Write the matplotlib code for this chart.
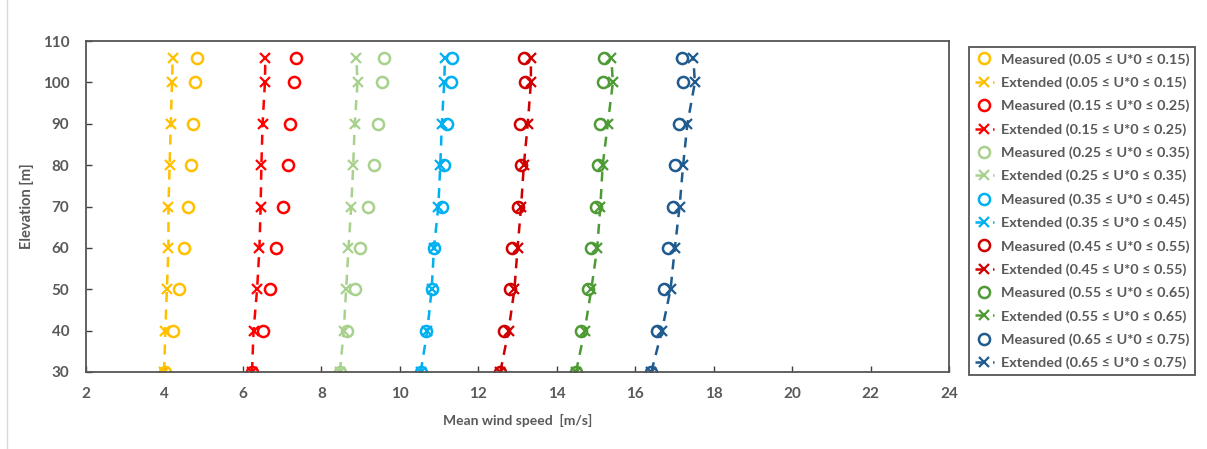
import matplotlib
matplotlib.use("Agg")
import matplotlib.pyplot as plt
from matplotlib.lines import Line2D

plt.rcParams['font.family'] = ['Lato', 'DejaVu Sans']

# elevation levels [m]
heights = [30, 40, 50, 60, 70, 80, 90, 100, 106]

ranges = ["0.05 ≤ U*0 ≤ 0.15", "0.15 ≤ U*0 ≤ 0.25", "0.25 ≤ U*0 ≤ 0.35",
          "0.35 ≤ U*0 ≤ 0.45", "0.45 ≤ U*0 ≤ 0.55", "0.55 ≤ U*0 ≤ 0.65",
          "0.65 ≤ U*0 ≤ 0.75"]
colors = ["#FFC000", "#FF0000", "#A9D18E", "#00B0F0", "#D00000", "#4E9A35", "#1F5B8E"]

# measured mean wind speed [m/s], one list per U*0 class
measured = [
    [4.00, 4.22, 4.36, 4.50, 4.59, 4.67, 4.73, 4.78, 4.83],
    [6.23, 6.50, 6.68, 6.83, 7.02, 7.14, 7.19, 7.30, 7.34],
    [8.47, 8.66, 8.85, 8.98, 9.20, 9.33, 9.43, 9.54, 9.59],
    [10.53, 10.66, 10.81, 10.87, 11.07, 11.13, 11.20, 11.30, 11.32],
    [12.56, 12.65, 12.81, 12.86, 13.00, 13.09, 13.07, 13.19, 13.17],
    [14.49, 14.62, 14.79, 14.86, 15.00, 15.05, 15.09, 15.17, 15.20],
    [16.41, 16.56, 16.73, 16.84, 16.96, 17.01, 17.12, 17.22, 17.18],
]
# extended profile [m/s]
extended = [
    [3.99, 4.02, 4.06, 4.10, 4.10, 4.13, 4.16, 4.19, 4.21],
    [6.23, 6.27, 6.36, 6.42, 6.45, 6.47, 6.50, 6.56, 6.57],
    [8.47, 8.57, 8.63, 8.69, 8.76, 8.81, 8.85, 8.92, 8.89],
    [10.53, 10.70, 10.81, 10.87, 10.98, 11.03, 11.07, 11.13, 11.15],
    [12.56, 12.77, 12.92, 13.00, 13.09, 13.16, 13.26, 13.34, 13.34],
    [14.49, 14.71, 14.88, 15.03, 15.11, 15.17, 15.30, 15.43, 15.39],
    [16.41, 16.68, 16.90, 17.01, 17.13, 17.22, 17.33, 17.52, 17.48],
]

gray = "#595959"

fig = plt.figure(figsize=(12.07, 4.49), dpi=100)
ax = fig.add_axes([0.0713, 0.1715, 0.715, 0.737])

handles = []
for i in range(len(ranges)):
    m, = ax.plot(measured[i], heights, linestyle='none', marker='o', ms=8,
                 mfc='none', mec=colors[i], mew=1.8,
                 label="Measured (" + ranges[i] + ")")
    e, = ax.plot(extended[i], heights, linestyle=(0, (4, 3)), lw=1.8,
                 color=colors[i], marker='x', ms=7, mew=1.6,
                 label="Extended (" + ranges[i] + ")")
    handles += [m, e]

ax.set_xlim(2, 24)
ax.set_ylim(30, 110)
ax.set_xticks(range(2, 25, 2))
ax.set_yticks(range(30, 111, 10))
ax.tick_params(direction='in', length=4, width=1, color='#404040')
ax.tick_params(axis='x', pad=11, labelsize=11, labelcolor=gray)
ax.tick_params(axis='y', pad=12, labelsize=11, labelcolor=gray)
for lab in ax.get_xticklabels() + ax.get_yticklabels():
    lab.set_fontweight('bold')
for s in ax.spines.values():
    s.set_color('#555555')
    s.set_linewidth(1.3)

ax.set_xlabel("Mean wind speed  [m/s]", fontsize=10, color=gray,
              fontweight='bold', labelpad=9)
ax.set_ylabel("Elevation [m]", fontsize=10.5, color=gray, fontweight='bold',
              labelpad=6)

leg = fig.legend(handles=handles, loc='upper left',
                 bbox_to_anchor=(0.797, 0.911), fontsize=10.4,
                 frameon=True, fancybox=False, framealpha=1,
                 edgecolor='#555555', handlelength=1.3, handletextpad=0.5,
                 labelspacing=0.74, borderpad=0.4)
leg.get_frame().set_linewidth(1.3)
for t in leg.get_texts():
    t.set_color(gray)
    t.set_fontweight('bold')

# faint chart-area border at the left
fig.add_artist(Line2D([0.006, 0.006], [0.0, 1.0], color='#D9D9D9', lw=1,
                      transform=fig.transFigure))

fig.savefig("out.png", dpi=100)
